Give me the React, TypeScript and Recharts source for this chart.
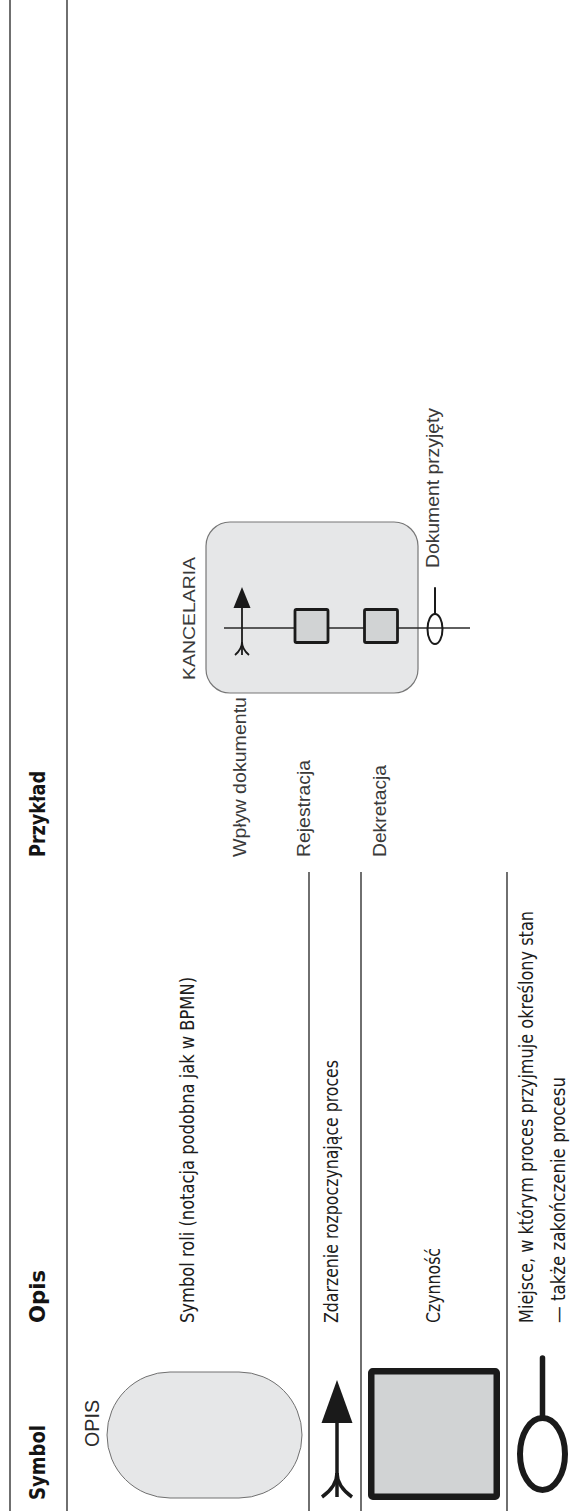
import React from 'react';
import { ScatterChart, Scatter, XAxis, YAxis, ReferenceLine } from 'recharts';

// Tabela symboli notacji (strona obrócona o 90°, czytana od dołu)
const headers = ['Symbol', 'Opis', 'Przykład'];
const symbolKinds = ['rola', 'zdarzenie', 'czynnosc', 'stan'];
const descriptions = [
  ['Symbol roli (notacja podobna jak w BPMN)'],
  ['Zdarzenie rozpoczynające proces'],
  ['Czynność'],
  ['Miejsce, w którym proces przyjmuje określony stan', '— także zakończenie procesu'],
];
const roleLabel = 'OPIS';
const exampleRole = 'KANCELARIA';
const exampleSteps = ['Wpływ dokumentu', 'Rejestracja', 'Dekretacja'];
const exampleEnd = 'Dokument przyjęty';

// layout (układ nieobrócony: u = poziomo, v = pionowo)
const W = 1511;
const H = 570;
const TABLE_TOP = 10;
const HEAD_LINE = 67;
const HEAD_BASE = 45;
const rowLines = [309, 361, 507];
const ROW_LINE_END = 639;
const colX = [11, 188, 654];
const headerLen = [75, 53, 86];
const descBase = [[194], [338], [440], [533, 565]];
const descLen = [[346], [263], [75], [412, 246]];
const stepBase = [246, 310, 386];
const stepLen = [160, 97, 92];

const NARROW = "'Liberation Sans Narrow', 'DejaVu Sans Condensed', 'Open Sans', sans-serif";
const ARIAL = "'Liberation Sans', Arial, Helvetica, sans-serif";
const INK = '#1a1a1a';
const LINE = '#222';

const textStyles: Record<string, any> = {
  head: { fontSize: 21, fontWeight: 700, fontFamily: NARROW, fill: '#141414' },
  body: { fontSize: 20, fontWeight: 400, fontFamily: NARROW, fill: '#1c1c1c' },
  label: { fontSize: 20, fontWeight: 400, fontFamily: ARIAL, fill: '#2b2b2b' },
  example: { fontSize: 18, fontWeight: 400, fontFamily: ARIAL, fill: '#3a3a3a' },
  role: { fontSize: 17, fontWeight: 400, fontFamily: ARIAL, fill: '#3a3a3a' },
};

const TextMark = (p: any) => {
  const d = p.payload;
  return (
    <text x={p.cx} y={p.cy} textLength={d.len} lengthAdjust="spacingAndGlyphs" {...textStyles[d.kind]}>
      {d.text}
    </text>
  );
};

const RoleShape = (p: any) => {
  const { w, h, r, sw } = p.dims;
  return (
    <rect x={p.cx - w / 2} y={p.cy - h / 2} width={w} height={h} rx={r} ry={r}
      fill="#e6e7e8" stroke="#707070" strokeWidth={sw} />
  );
};

const StartShape = (p: any) => {
  const { len, head, half, fork, spread, sw } = p.dims;
  const u0 = p.cx - len / 2;
  const u1 = p.cx + len / 2;
  const hb = u1 - head;
  const cy = p.cy;
  return (
    <g>
      <line x1={u0} y1={cy} x2={hb + 1} y2={cy} stroke={INK} strokeWidth={sw} />
      <path d={`M${u1},${cy} L${hb},${cy - half} L${hb},${cy + half} Z`} fill={INK} />
      <path d={`M${u0 + fork},${cy} Q${u0 + fork * 0.45},${cy} ${u0},${cy - spread}`} fill="none" stroke={INK} strokeWidth={sw} />
      <path d={`M${u0 + fork},${cy} Q${u0 + fork * 0.45},${cy} ${u0},${cy + spread}`} fill="none" stroke={INK} strokeWidth={sw} />
    </g>
  );
};

const TaskShape = (p: any) => {
  const { s, sw } = p.dims;
  return (
    <rect x={p.cx - s / 2} y={p.cy - s / 2} width={s} height={s} rx={1.5}
      fill="#d1d3d4" stroke={INK} strokeWidth={sw} />
  );
};

const EndShape = (p: any) => {
  const { ru, rv, stick, sw, ssw } = p.dims;
  return (
    <g>
      <line x1={p.cx + ru} y1={p.cy} x2={p.cx + ru + stick} y2={p.cy} stroke={INK} strokeWidth={ssw} strokeLinecap="round" />
      <ellipse cx={p.cx} cy={p.cy} rx={ru} ry={rv} fill="none" stroke={INK} strokeWidth={sw} />
    </g>
  );
};

const BoxShape = (p: any) => {
  const { w, h, r } = p.dims;
  return (
    <rect x={p.cx - w / 2} y={p.cy - h / 2} width={w} height={h} rx={r} ry={r}
      fill="#e6e7e8" stroke="#777" strokeWidth={1.2} />
  );
};

const FlowShape = (p: any) => {
  const { len } = p.dims;
  return <line x1={p.cx} y1={p.cy - len / 2} x2={p.cx} y2={p.cy + len / 2} stroke="#2a2a2a" strokeWidth={1.6} />;
};

const App = () => {
  const texts = [
    ...headers.map((t, i) => ({ u: colX[i], v: HEAD_BASE, text: t, len: headerLen[i], kind: 'head' })),
    ...descriptions.flatMap((lines, r) =>
      lines.map((t, j) => ({ u: colX[1], v: descBase[r][j], text: t, len: descLen[r][j], kind: 'body' }))
    ),
    { u: 64, v: 99, text: roleLabel, len: 47, kind: 'label' },
    ...exampleSteps.map((t, i) => ({ u: colX[2], v: stepBase[i], text: t, len: stepLen[i], kind: 'example' })),
    { u: 831, v: 195, text: exampleRole, len: 123, kind: 'role' },
    { u: 943, v: 439, text: exampleEnd, len: 160, kind: 'example' },
  ];

  // symbole w kolumnie "Symbol" - po jednym na wiersz
  const legend = symbolKinds.map((k) => ({ kind: k }));
  const roleLegend = [{ ...legend[0], u: 76, v: 204.5 }];
  const startLegend = [{ ...legend[1], u: 72.5, v: 337 }];
  const taskLegend = [{ ...legend[2], u: 77, v: 434 }];
  const endLegend = [{ ...legend[3], u: 57, v: 542.5 }];

  // przykład: KANCELARIA
  const exBox = [{ u: 903.5, v: 312 }];
  const exFlow = [{ u: 883, v: 347 }];
  const exStart = [{ u: 890, v: 242 }];
  const exTasks = exampleSteps.slice(1).map((s, i) => ({ step: s, u: 885, v: [311.5, 381][i] }));
  const exEnd = [{ u: 882, v: 435 }];

  const hLines = [TABLE_TOP, HEAD_LINE];

  return (
    <div style={{ position: 'absolute', left: 0, top: 0, width: H, height: W, overflow: 'hidden', background: '#fff' }}>
      <div style={{ width: W, height: H, transformOrigin: '0 0', transform: `translate(0px, ${W}px) rotate(-90deg)` }}>
        <ScatterChart width={W} height={H} margin={{ top: 0, right: 0, bottom: 0, left: 0 }}>
          <XAxis type="number" dataKey="u" domain={[0, W]} allowDataOverflow hide />
          <YAxis type="number" dataKey="v" domain={[0, H]} allowDataOverflow reversed hide />
          {hLines.map((y) => (
            <ReferenceLine key={`h${y}`} segment={[{ x: 0, y }, { x: W, y }]} stroke={LINE} strokeWidth={1.3} />
          ))}
          {rowLines.map((y) => (
            <ReferenceLine key={`r${y}`} segment={[{ x: 0, y }, { x: ROW_LINE_END, y }]} stroke={LINE} strokeWidth={1.3} />
          ))}
          <Scatter data={roleLegend} isAnimationActive={false}
            shape={(p: any) => <RoleShape {...p} dims={{ w: 126, h: 195, r: 63, sw: 1 }} />} />
          <Scatter data={startLegend} isAnimationActive={false}
            shape={(p: any) => <StartShape {...p} dims={{ len: 117, head: 43, half: 15.5, fork: 24, spread: 15, sw: 3.5 }} />} />
          <Scatter data={taskLegend} isAnimationActive={false}
            shape={(p: any) => <TaskShape {...p} dims={{ s: 125.5, sw: 6.5 }} />} />
          <Scatter data={endLegend} isAnimationActive={false}
            shape={(p: any) => <EndShape {...p} dims={{ ru: 36, rv: 22.5, stick: 60, sw: 6, ssw: 5.5 }} />} />
          <Scatter data={exBox} isAnimationActive={false}
            shape={(p: any) => <BoxShape {...p} dims={{ w: 171, h: 212, r: 24 }} />} />
          <Scatter data={exFlow} isAnimationActive={false}
            shape={(p: any) => <FlowShape {...p} dims={{ len: 246 }} />} />
          <Scatter data={exStart} isAnimationActive={false}
            shape={(p: any) => <StartShape {...p} dims={{ len: 68, head: 21, half: 8.5, fork: 13, spread: 7, sw: 1.8 }} />} />
          <Scatter data={exTasks} isAnimationActive={false}
            shape={(p: any) => <TaskShape {...p} dims={{ s: 33, sw: 2.8 }} />} />
          <Scatter data={exEnd} isAnimationActive={false}
            shape={(p: any) => <EndShape {...p} dims={{ ru: 15, rv: 7.5, stick: 26, sw: 2, ssw: 2 }} />} />
          <Scatter data={texts} isAnimationActive={false} shape={(p: any) => <TextMark {...p} />} />
        </ScatterChart>
      </div>
    </div>
  );
};

export default App;
